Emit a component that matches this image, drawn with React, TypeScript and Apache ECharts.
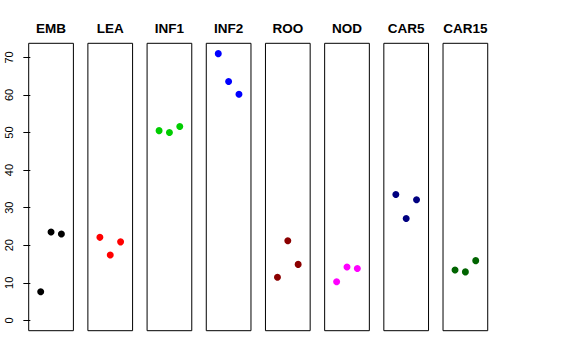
import React, { useEffect, useRef } from "react";
import * as echarts from "echarts";

const categories = ["EMB", "LEA", "INF1", "INF2", "ROO", "NOD", "CAR5", "CAR15"];
const colors = ["#000000", "#FF0000", "#00CD00", "#0000FF", "#8B0000", "#FF00FF", "#000080", "#006400"];
const positions = [1, 2, 3];
const valEMB = [7.6, 23.5, 23.0];
const valLEA = [22.1, 17.4, 20.9];
const valINF1 = [50.5, 50.0, 51.6];
const valINF2 = [71.0, 63.6, 60.2];
const valROO = [11.5, 21.2, 14.9];
const valNOD = [10.3, 14.2, 13.8];
const valCAR5 = [33.5, 27.1, 32.1];
const valCAR15 = [13.4, 12.9, 15.9];
const values = [valEMB, valLEA, valINF1, valINF2, valROO, valNOD, valCAR5, valCAR15];
const yTicks = [0, 10, 20, 30, 40, 50, 60, 70];

export default function App() {
  const ref = useRef<HTMLDivElement>(null);
  useEffect(() => {
    if (!ref.current) return;
    const chart = echarts.init(ref.current, null, { renderer: "svg" });
    const left0 = 28.7;
    const pitch = 59.19;
    const width = 44.7;
    const top = 43.3;
    const height = 287.4;
    const font = "'Liberation Sans', Arial, Helvetica, sans-serif";
    const grids = categories.map((_, i) => ({
      left: left0 + pitch * i,
      top,
      width,
      height,
      containLabel: false,
      outerBoundsMode: "none",
      show: true,
      borderColor: "#000",
      borderWidth: 1,
      backgroundColor: "transparent",
    }));
    const xAxes = categories.map((_, i) => ({
      type: "value",
      gridIndex: i,
      min: -0.16,
      max: 4.16,
      show: false,
    }));
    const yAxes = categories.map((_, i) => ({
      type: "value",
      gridIndex: i,
      min: -2.75,
      max: 73.75,
      show: i === 0,
      splitLine: { show: false },
      axisLine: { show: false },
      axisTick: {
        show: i === 0,
        length: 7,
        customValues: yTicks,
        lineStyle: { color: "#000", width: 1 },
      },
      axisLabel: {
        show: i === 0,
        customValues: yTicks,
        rotate: 90,
        margin: 14,
        color: "#000",
        fontSize: 11,
        fontFamily: font,
      },
    }));
    const titles = categories.map((c, i) => ({
      text: c,
      left: left0 + pitch * i + width / 2,
      top: 21.5,
      padding: 0,
      textAlign: "center",
      textStyle: { fontSize: 13.5, fontWeight: "bold", color: "#000", fontFamily: font },
    }));
    const series = categories.map((c, i) => ({
      type: "scatter",
      name: c,
      xAxisIndex: i,
      yAxisIndex: i,
      symbol: "circle",
      symbolSize: 7,
      itemStyle: { color: colors[i], opacity: 1 },
      data: positions.map((p, j) => [p, values[i][j]]),
    }));
    chart.setOption({
      animation: false,
      backgroundColor: "#fff",
      title: titles,
      grid: grids,
      xAxis: xAxes,
      yAxis: yAxes,
      series,
    });
    return () => chart.dispose();
  }, []);
  return (
    <div
      ref={ref}
      style={{ position: "absolute", left: 0, top: 0, width: 576, height: 360 }}
    />
  );
}
